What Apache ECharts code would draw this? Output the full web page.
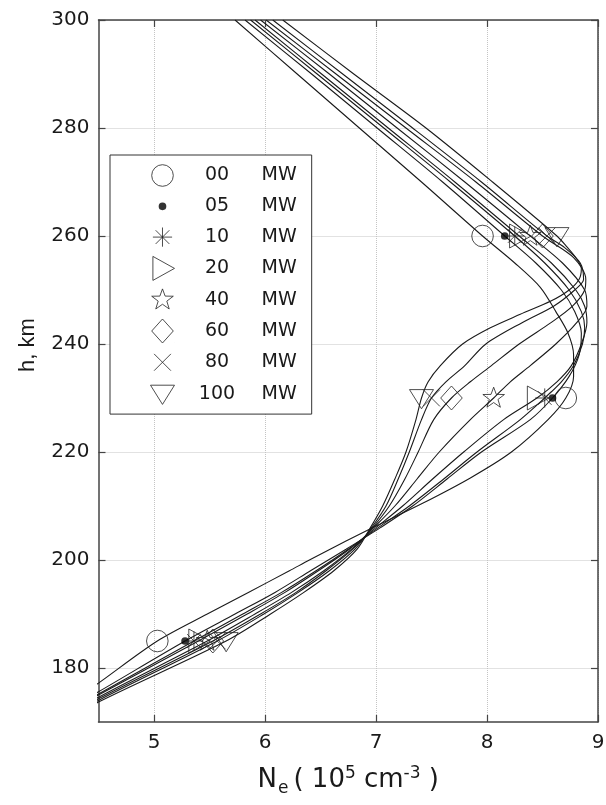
<!DOCTYPE html>
<html>
<head>
<meta charset="utf-8">
<script src="https://cdn.jsdelivr.net/npm/echarts@6/dist/echarts.min.js"></script>
<style>
html,body{margin:0;padding:0;background:#fff;}
#chart{width:606px;height:805px;}
</style>
</head>
<body>
<div id="chart"></div>
<script>
// ---- data (x = Ne [1e5 cm^-3], y = h [km]) ----
const powerNames = ['00', '05', '10', '20', '40', '60', '80', '100'];
const xTicks = [5, 6, 7, 8, 9];
const yTicks = [180, 200, 220, 240, 260, 280, 300];

const curve00 = [[4.00,170],[4.50,177.2],[5.03,185],[5.48,190],[5.85,194],[6.22,198],[6.40,200],[6.73,203.5],[7.00,206.3],[7.42,210.5],[7.85,215.2],[8.22,220],[8.55,226],[8.71,230],[8.78,234],[8.78,238],[8.73,242],[8.62,246],[8.48,250.5],[8.25,255],[7.96,260],[7.41,270],[6.85,280],[6.29,290],[5.73,300]];
const curve05 = [[4.02,170],[4.50,175.6],[5.28,185],[5.73,190],[6.09,194],[6.41,198],[6.73,202],[7.04,206],[7.33,210],[7.64,215],[7.95,220],[8.39,226],[8.59,230],[8.74,234],[8.83,238],[8.85,242],[8.79,246],[8.67,250],[8.44,255],[8.16,260],[7.60,270],[7.01,280],[6.42,290],[5.82,300]];
const curve10 = [[4.05,170],[4.50,175.2],[5.36,185],[5.80,190],[6.15,194],[6.46,198],[6.75,202],[7.02,206],[7.30,210],[7.61,215],[7.91,220],[8.30,226],[8.52,230],[8.67,233],[8.78,236],[8.86,240],[8.88,243],[8.85,246],[8.74,250],[8.52,255],[8.25,260],[7.67,270],[7.07,280],[6.47,290],[5.87,300]];
const curve20 = [[4.07,170],[4.50,175.0],[5.40,185],[5.84,190],[6.18,194],[6.48,198],[6.76,202],[7.00,206],[7.24,210],[7.51,215],[7.79,220],[8.15,226],[8.45,230],[8.63,233],[8.76,236],[8.85,240],[8.90,244],[8.88,247],[8.80,250],[8.58,255],[8.29,260],[7.71,270],[7.11,280],[6.51,290],[5.91,300]];
const curve40 = [[4.11,170],[4.50,174.6],[5.48,185],[5.91,190],[6.24,194],[6.53,198],[6.78,202],[6.98,206],[7.17,210],[7.37,215],[7.57,220],[7.85,226],[8.06,230],[8.21,233],[8.39,236],[8.62,240],[8.81,244],[8.90,247],[8.88,250],[8.68,255],[8.39,260],[7.80,270],[7.19,280],[6.58,290],[5.96,300]];
const curve60 = [[4.13,170],[4.50,174.3],[5.53,185],[5.96,190],[6.28,194],[6.55,198],[6.79,202],[6.97,206],[7.12,210],[7.26,215],[7.38,220],[7.52,226],[7.68,230],[7.85,233],[8.04,236],[8.29,240],[8.58,244],[8.77,247],[8.88,250],[8.89,252],[8.78,256],[8.50,260],[7.90,270],[7.27,280],[6.64,290],[6.01,300]];
const curve80 = [[4.16,170],[4.50,174.0],[5.57,185],[5.99,190],[6.30,194],[6.58,198],[6.81,202],[6.96,206],[7.09,210],[7.20,215],[7.30,220],[7.41,226],[7.50,230],[7.63,233],[7.80,236],[7.99,240],[8.32,244],[8.60,247],[8.79,250],[8.87,252],[8.84,255],[8.69,258],[8.54,260],[7.95,270],[7.33,280],[6.70,290],[6.07,300]];
const curve100 = [[4.19,170],[4.50,173.7],[5.65,185],[6.05,190],[6.35,194],[6.62,198],[6.83,202],[6.95,206],[7.06,210],[7.17,215],[7.27,220],[7.36,226],[7.41,230],[7.47,233],[7.58,236],[7.78,240],[8.03,243],[8.30,245.5],[8.58,248],[8.74,250],[8.83,252],[8.85,254],[8.80,256],[8.72,258],[8.63,260],[8.05,270],[7.45,280],[6.80,290],[6.16,300]];

const markerHeights = [185, 230, 260];
const markers185 = [5.03, 5.28, 5.36, 5.40, 5.48, 5.53, 5.57, 5.65];
const markers230 = [8.71, 8.59, 8.52, 8.45, 8.06, 7.68, 7.50, 7.41];
const markers260 = [7.96, 8.16, 8.25, 8.29, 8.39, 8.50, 8.54, 8.63];

const curves = [curve00, curve05, curve10, curve20, curve40, curve60, curve80, curve100];

// ---- marker glyphs (MATLAB-like), all in a -10..10 frame ----
const pad = 'M-10,-10L-10,-10.001M10,10L10,10.001';
const glyphs = [
  'path://' + pad + 'M-9,0A9,9 0 1,0 9,0A9,9 0 1,0 -9,0Z',            // circle
  'path://' + pad + 'M-3.2,0A3.2,3.2 0 1,0 3.2,0A3.2,3.2 0 1,0 -3.2,0Z', // dot
  'path://' + pad + 'M0,-8L0,8M-8,0L8,0M-5.7,-5.7L5.7,5.7M-5.7,5.7L5.7,-5.7', // asterisk
  'path://' + pad + 'M-8,-10L10,0L-8,10Z',                             // triangle right
  'path://' + pad + 'M0,-9L2.2,-3.0L9.0,-2.9L3.6,1.2L5.6,7.7L0,3.8L-5.6,7.7L-3.6,1.2L-9.0,-2.9L-2.2,-3.0Z', // star
  'path://' + pad + 'M0,-10L9,0L0,10L-9,0Z',                           // diamond
  'path://' + pad + 'M-7,-7L7,7M-7,7L7,-7',                            // x
  'path://' + pad + 'M-10,-7L10,-7L0,9Z'                               // triangle down
];

const FONT = 'DejaVu Sans, Liberation Sans, Arial, sans-serif';
const FONT2 = 'Liberation Sans, Arial, Helvetica, sans-serif';
const INK = '#1a1a1a';

const series = [];
curves.forEach((c, i) => {
  series.push({
    type: 'line', name: 'curve' + powerNames[i], data: c,
    showSymbol: false, smooth: 0.3, clip: true, silent: true,
    lineStyle: { color: INK, width: 1.1 }, z: 2
  });
});
powerNames.forEach((n, i) => {
  const isDot = i === 1;
  series.push({
    type: 'scatter', name: n,
    data: [[markers185[i], markerHeights[0]], [markers230[i], markerHeights[1]], [markers260[i], markerHeights[2]]],
    symbol: glyphs[i], symbolSize: 24, symbolKeepAspect: true, silent: true,
    itemStyle: { color: isDot ? '#000' : 'rgba(0,0,0,0)', borderColor: '#222', borderWidth: isDot ? 0 : 1 },
    z: 3
  });
});

const chart = echarts.init(document.getElementById('chart'), null, { renderer: 'canvas' });
chart.setOption({
  backgroundColor: '#fff',
  animation: false,
  grid: { left: 98.5, right: 8, top: 20, bottom: 83, outerBoundsMode: 'none', show: false },
  legend: {
    orient: 'vertical', left: 110, top: 155,
    padding: [8, 15, 8, 40],
    itemWidth: 24, itemHeight: 24, itemGap: 6.3,
    borderColor: '#333', borderWidth: 1, backgroundColor: '#fff',
    selectedMode: false,
    data: powerNames.map((n, i) => ({
      name: n, icon: glyphs[i],
      itemStyle: { color: i === 1 ? '#000' : 'rgba(0,0,0,0)', borderColor: '#222', borderWidth: i === 1 ? 0 : 1 }
    })),
    formatter: n => '{n|' + n + '}{m|MW}',
    textStyle: {
      fontFamily: FONT, fontSize: 19, color: INK, lineHeight: 24,
      rich: {
        n: { fontFamily: FONT, fontSize: 19, color: INK, width: 75, align: 'right', lineHeight: 24 },
        m: { fontFamily: FONT, fontSize: 19, color: INK, padding: [0, 0, 0, 7], lineHeight: 24 }
      }
    }
  },
  xAxis: [{
    type: 'value', min: 4.5, max: 9, position: 'bottom',
    name: 'N{sub|e}( 10{sup|5} cm{sup|-3} )',
    nameLocation: 'middle', nameGap: 42,
    nameTextStyle: {
      fontFamily: FONT, fontSize: 26, color: INK,
      rich: {
        sub: { fontFamily: FONT, fontSize: 17, color: INK, padding: [16, 5, 0, 1] },
        sup: { fontFamily: FONT, fontSize: 17, color: INK, padding: [0, 0, 14, 0] }
      }
    },
    axisLine: { show: true, onZero: false, lineStyle: { color: '#444', width: 1.5 } },
    axisTick: { show: true, inside: true, length: 7, customValues: xTicks, lineStyle: { color: '#444', width: 1.2 } },
    axisLabel: { customValues: xTicks, fontFamily: FONT, fontSize: 20, color: INK, margin: 11 },
    splitLine: { show: true, lineStyle: { color: '#c4c4c4', type: 'dotted', width: 1 } }
  }, {
    type: 'value', min: 4.5, max: 9, position: 'top',
    axisLine: { show: true, onZero: false, lineStyle: { color: '#444', width: 1.5 } },
    axisTick: { show: true, inside: true, length: 7, customValues: xTicks, lineStyle: { color: '#444', width: 1.2 } },
    axisLabel: { show: false }, splitLine: { show: false }
  }],
  yAxis: [{
    type: 'value', min: 170, max: 300, position: 'left',
    name: 'h, km', nameLocation: 'middle', nameGap: 60, nameRotate: 90,
    nameTextStyle: { fontFamily: FONT2, fontSize: 22, color: INK, padding: [0, 0, 0, 52] },
    axisLine: { show: true, onZero: false, lineStyle: { color: '#444', width: 1.5 } },
    axisTick: { show: true, inside: true, length: 7, customValues: yTicks, lineStyle: { color: '#444', width: 1.2 } },
    axisLabel: { customValues: yTicks, fontFamily: FONT, fontSize: 20, color: INK, margin: 9 },
    splitLine: { show: true, lineStyle: { color: '#c4c4c4', type: 'dotted', width: 1 } }
  }, {
    type: 'value', min: 170, max: 300, position: 'right',
    axisLine: { show: true, onZero: false, lineStyle: { color: '#444', width: 1.5 } },
    axisTick: { show: true, inside: true, length: 7, customValues: yTicks, lineStyle: { color: '#444', width: 1.2 } },
    axisLabel: { show: false }, splitLine: { show: false }
  }],
  series: series
});
</script>
</body>
</html>
